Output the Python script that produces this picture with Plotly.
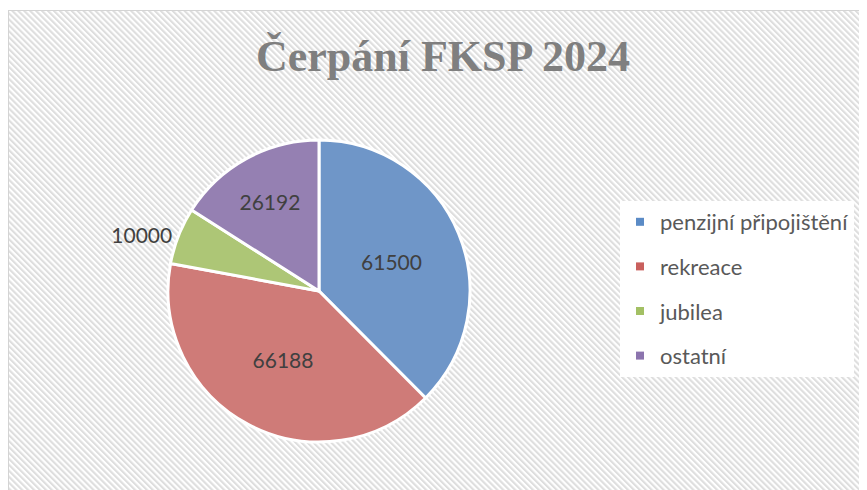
import base64
import plotly.graph_objects as go

# ---- data ----
categories = ["penzijní připojištění", "rekreace", "jubilea", "ostatní"]
values = [61500, 66188, 10000, 26192]
label_positions = ["inside", "inside", "outside", "inside"]
colors = ["#6F96C8", "#CF7B78", "#ADC676", "#9580B2"]
legend_colors = ["#5B8BC6", "#C9605D", "#A3C064", "#8C74AE"]
title_text = "Čerpání FKSP 2024"

# page has 8px body margin -> figure drawn at (8,8)
W, H = 859, 482
OX, OY = 8, 8

def fx(px):
    return (px - OX) / W

def fy(py):
    return 1 - (py - OY) / H

# striped background (decoration)
svg = f"""<svg xmlns='http://www.w3.org/2000/svg' width='{W}' height='{H}' viewBox='0 0 {W} {H}'>
<defs><pattern id='p' width='4.2' height='4.2' patternUnits='userSpaceOnUse' patternTransform='rotate(-45)'>
<rect width='4.2' height='4.2' fill='#ffffff'/><rect width='2.1' height='4.2' fill='#dedede'/></pattern></defs>
<rect x='0' y='0' width='{W}' height='{H}' fill='#ffffff'/>
<rect x='0' y='2' width='{W}' height='{H}' fill='url(#p)'/>
<rect x='0.5' y='2.5' width='{W}' height='{H}' fill='none' stroke='#d4d4d4' stroke-width='1'/>
</svg>"""
src = "data:image/svg+xml;base64," + base64.b64encode(svg.encode()).decode()

fig = go.Figure()

cx, cy, r = 319, 291, 151
fig.add_trace(go.Pie(
    labels=categories,
    values=values,
    sort=False,
    direction="clockwise",
    rotation=0,
    marker=dict(colors=colors, line=dict(color="white", width=3)),
    textinfo="value",
    texttemplate="%{value:d}",
    textposition=label_positions,
    insidetextorientation="horizontal",
    textfont=dict(family="Lato", size=21, color="#404040"),
    showlegend=False,
    hoverinfo="label+value",
    domain=dict(x=[fx(cx - r), fx(cx + r)], y=[fy(cy + r), fy(cy - r)]),
))

for i, (cat, col) in enumerate(zip(categories, legend_colors)):
    fig.add_trace(go.Scatter(
        x=[None], y=[None], mode="markers", name=cat,
        marker=dict(symbol="square", size=8, color=col),
        legendgroup=f"g{i}", showlegend=True,
    ))

fig.update_layout(
    width=W, height=H,
    margin=dict(l=0, r=0, t=0, b=0),
    paper_bgcolor="white",
    plot_bgcolor="rgba(0,0,0,0)",
    xaxis=dict(visible=False),
    yaxis=dict(visible=False),
    images=[dict(source=src, xref="paper", yref="paper", x=0, y=1, sizex=1, sizey=1,
                 xanchor="left", yanchor="top", sizing="stretch", layer="below")],
    title=dict(text=f"<b>{title_text}</b>", x=fx(443), y=fy(56), xanchor="center", yanchor="middle",
               font=dict(family="Liberation Serif", size=44, color="#7F7F7F")),
    legend=dict(x=fx(620), y=fy(201), xanchor="left", yanchor="top",
                bgcolor="white", font=dict(family="Lato", size=22, color="#595959"),
                tracegroupgap=13, itemclick=False),
    showlegend=True,
)

fig.write_html("out.html")
